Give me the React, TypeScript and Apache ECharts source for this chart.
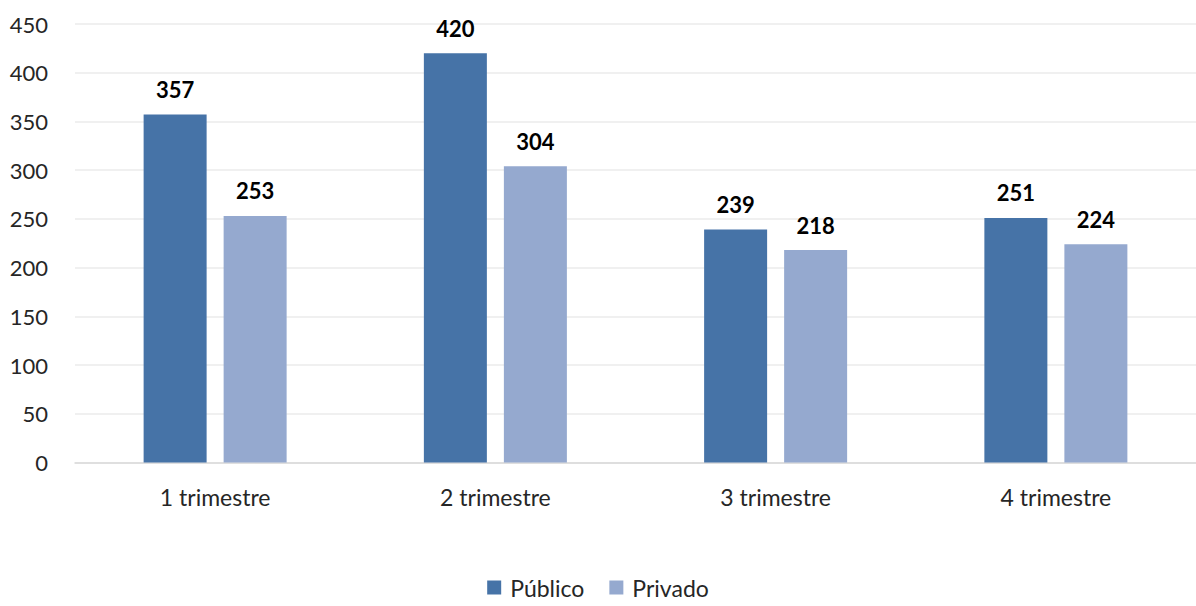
import React, { useEffect, useRef } from "react";
import * as echarts from "echarts";

const categories = ["1 trimestre", "2 trimestre", "3 trimestre", "4 trimestre"];
const publico = [357, 420, 239, 251];
const privado = [253, 304, 218, 224];
const seriesNames = ["Público", "Privado"];

const FONT = "Lato, 'Open Sans', sans-serif";

export default function App() {
  const ref = useRef<HTMLDivElement>(null);
  useEffect(() => {
    if (!ref.current) return;
    const chart = echarts.init(ref.current, null, { renderer: "svg" });
    const label = {
      show: true,
      position: "top",
      distance: 14,
      color: "#000",
      fontWeight: "bold",
      fontSize: 22,
      fontFamily: FONT,
    };
    chart.setOption({
      animation: false,
      backgroundColor: "#fff",
      textStyle: { fontFamily: FONT },
      grid: { left: 75, right: -6, top: 24, bottom: 143.5, containLabel: false },
      legend: {
        data: seriesNames,
        bottom: 2,
        left: "center",
        itemWidth: 14,
        itemHeight: 14,
        itemGap: 25,
        icon: "rect",
        textStyle: { fontSize: 23, color: "#262626", fontFamily: FONT, padding: [0, 0, 0, 4] },
      },
      xAxis: {
        type: "category",
        data: categories,
        axisLine: { show: true, lineStyle: { color: "#d9d9d9", width: 1.5 } },
        axisTick: { show: false },
        axisLabel: { fontSize: 23, color: "#262626", margin: 23, fontFamily: FONT },
      },
      yAxis: {
        type: "value",
        min: 0,
        max: 450,
        interval: 50,
        axisLine: { show: false },
        axisTick: { show: false },
        axisLabel: { fontSize: 22, color: "#262626", margin: 27, fontFamily: FONT },
        splitLine: { lineStyle: { color: "#ebebeb", width: 1.5 } },
      },
      series: [
        {
          name: seriesNames[0],
          type: "bar",
          data: publico,
          barWidth: 63,
          barGap: "27%",
          itemStyle: { color: "#4673a7" },
          label,
        },
        {
          name: seriesNames[1],
          type: "bar",
          data: privado,
          barWidth: 63,
          barGap: "27%",
          itemStyle: { color: "#95a9cf" },
          label,
        },
      ],
    });
    return () => chart.dispose();
  }, []);
  return (
    <div
      ref={ref}
      style={{ position: "absolute", left: 0, top: 0, width: 1196, height: 606 }}
    />
  );
}
